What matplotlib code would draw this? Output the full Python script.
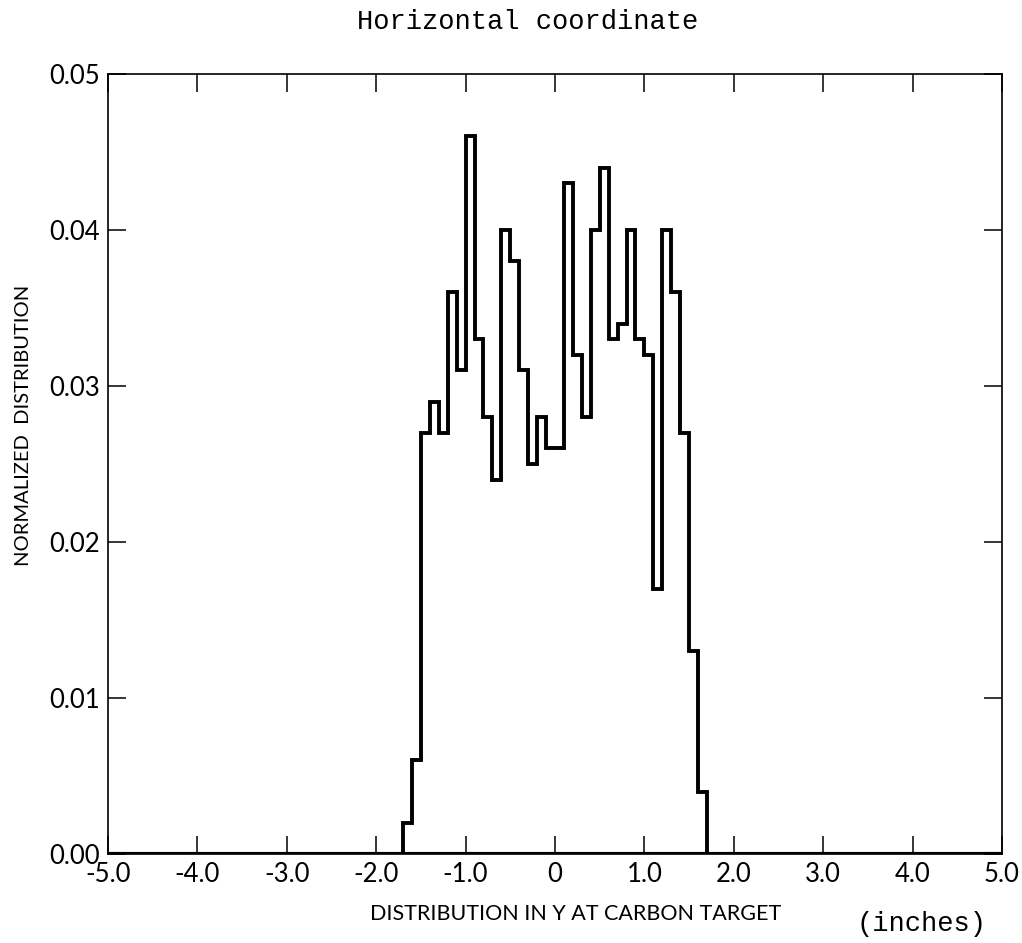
import matplotlib
matplotlib.use('Agg')
import matplotlib.pyplot as plt
import numpy as np

# bin edges (inches) and normalized counts of the horizontal profile
bin_edges = np.round(np.arange(-1.7, 1.71, 0.1), 1)
heights = [0.002, 0.006, 0.027, 0.029, 0.027, 0.036, 0.031, 0.046, 0.033, 0.028,
           0.024, 0.040, 0.038, 0.031, 0.025, 0.028, 0.026, 0.026, 0.043, 0.032,
           0.028, 0.040, 0.044, 0.033, 0.034, 0.040, 0.033, 0.032, 0.017, 0.040,
           0.036, 0.027, 0.013, 0.004]

x_ticks = [-5, -4, -3, -2, -1, 0, 1, 2, 3, 4, 5]
x_labels = ['-5.0', '-4.0', '-3.0', '-2.0', '-1.0', '0', '1.0', '2.0', '3.0', '4.0', '5.0']
y_ticks = [0.0, 0.01, 0.02, 0.03, 0.04, 0.05]
y_labels = ['0.00', '0.01', '0.02', '0.03', '0.04', '0.05']

sans = ['Lato', 'DejaVu Sans']
mono = ['Liberation Mono', 'DejaVu Sans Mono']

fig = plt.figure(figsize=(10.22, 9.43), dpi=100)
ax = fig.add_axes([0.1057, 0.0944, 0.8747, 0.8271])

ax.stairs(heights, bin_edges, baseline=0, fill=False, color='black', linewidth=2.8)
ax.axhline(0, color='black', linewidth=3.0)

ax.set_xlim(-5, 5)
ax.set_ylim(0, 0.05)
ax.set_xticks(x_ticks)
ax.set_xticklabels(x_labels, family=sans, fontsize=18.5)
ax.set_yticks(y_ticks)
ax.set_yticklabels(y_labels, family=sans, fontsize=18.5)
ax.tick_params(direction='in', length=13, width=1.1, top=True, right=True, pad=6)

for s in ax.spines.values():
    s.set_linewidth(1.2)

ax.set_xlabel('DISTRIBUTION IN Y AT CARBON TARGET', family=sans, fontsize=15.5)
ax.xaxis.set_label_coords(0.523, -0.064)
ax.set_ylabel('NORMALIZED  DISTRIBUTION', family=sans, fontsize=14.5)
ax.yaxis.set_label_coords(-0.085, 0.55)

fig.text(0.516, 0.977, 'Horizontal coordinate', family=mono, fontsize=19.5,
         ha='center', va='center')
fig.text(0.902, 0.02, '(inches)', family=mono, fontsize=19.5, ha='center', va='center')

fig.savefig('out.png', dpi=100)
